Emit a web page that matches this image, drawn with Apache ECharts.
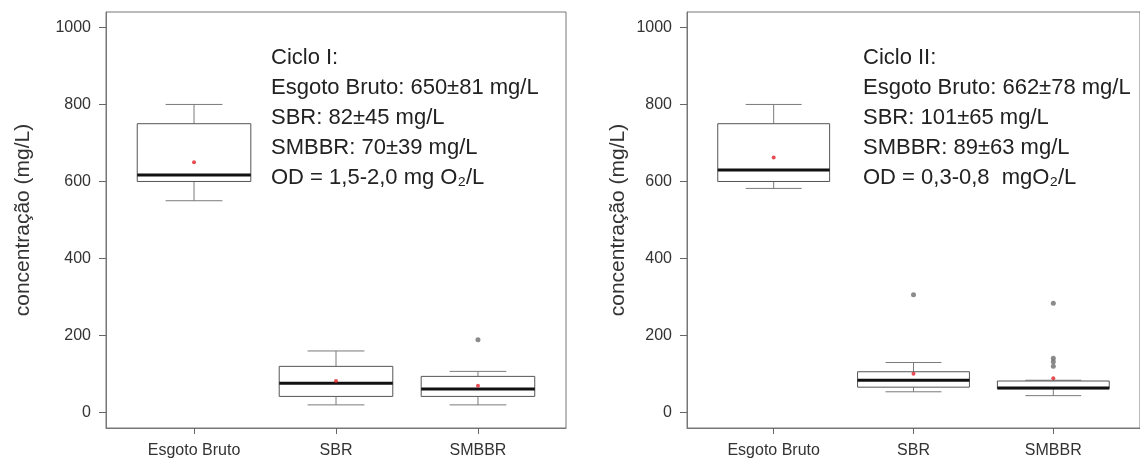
<!DOCTYPE html>
<html>
<head>
<meta charset="utf-8">
<script src="https://cdn.jsdelivr.net/npm/echarts@6/dist/echarts.min.js"></script>
<style>
html,body{margin:0;padding:0;background:#fff;}
#chart{width:1140px;height:459px;}
</style>
</head>
<body>
<div id="chart"></div>
<script>
// ---- data ----
const categories = ['Esgoto Bruto', 'SBR', 'SMBBR'];
const yTicks = [0, 200, 400, 600, 800, 1000];
// [lower whisker, Q1, median, Q3, upper whisker]
const boxCiclo1 = [[550, 600, 617, 750, 800], [20, 42, 76, 120, 160], [20, 42, 61, 94, 107]];
const boxCiclo2 = [[582, 600, 630, 750, 800], [54, 66, 84, 106, 130], [44, 62, 64, 82, 84]];
const meansCiclo1 = [650, 82, 70];
const meansCiclo2 = [662, 101, 89];
// [category number (1-based), value]
const outliersCiclo1 = [[3, 189]];
const outliersCiclo2 = [[2, 306], [3, 284], [3, 141], [3, 132], [3, 120]];
const textCiclo1 = ['Ciclo I:', 'Esgoto Bruto: 650±81 mg/L', 'SBR: 82±45 mg/L', 'SMBBR: 70±39 mg/L', 'OD = 1,5-2,0 mg O₂/L'];
const textCiclo2 = ['Ciclo II:', 'Esgoto Bruto: 662±78 mg/L', 'SBR: 101±65 mg/L', 'SMBBR: 89±63 mg/L', 'OD = 0,3-0,8  mgO₂/L'];

// ---- chart ----
const FONT = '"Liberation Sans", Arial, sans-serif';
const chart = echarts.init(document.getElementById('chart'));

function boxData(arr) {
  return arr.map((b, i) => [i + 1].concat(b));
}
function meanData(arr) {
  return arr.map((v, i) => [i + 1, v]);
}

function renderBox(params, api) {
  const x = api.value(0);
  const lo = api.coord([x, api.value(1)]);
  const q1 = api.coord([x, api.value(2)]);
  const md = api.coord([x, api.value(3)]);
  const q3 = api.coord([x, api.value(4)]);
  const hi = api.coord([x, api.value(5)]);
  const cx = lo[0];
  const hb = api.size([0.4, 0])[0];
  const hc = api.size([0.2, 0])[0];
  const wStyle = { stroke: '#7a7a7a', lineWidth: 1 };
  return {
    type: 'group',
    children: [
      { type: 'line', shape: { x1: cx, y1: lo[1], x2: cx, y2: q1[1] }, style: wStyle },
      { type: 'line', shape: { x1: cx, y1: q3[1], x2: cx, y2: hi[1] }, style: wStyle },
      { type: 'line', shape: { x1: cx - hc, y1: lo[1], x2: cx + hc, y2: lo[1] }, style: wStyle },
      { type: 'line', shape: { x1: cx - hc, y1: hi[1], x2: cx + hc, y2: hi[1] }, style: wStyle },
      { type: 'rect', shape: { x: cx - hb, y: q3[1], width: 2 * hb, height: q1[1] - q3[1] },
        style: { fill: '#fff', stroke: '#555', lineWidth: 1 } },
      { type: 'line', shape: { x1: cx - hb, y1: md[1], x2: cx + hb, y2: md[1] },
        style: { stroke: '#111', lineWidth: 3 } }
    ]
  };
}

function xAxisFor(gi) {
  return {
    type: 'value', gridIndex: gi, min: 0.38, max: 3.62, position: 'bottom',
    axisLine: { show: true, onZero: false, lineStyle: { color: '#777', width: 1 } },
    splitLine: { show: false },
    axisTick: { show: true, inside: false, length: 6, customValues: [1, 2, 3], lineStyle: { color: '#666', width: 1 } },
    axisLabel: {
      customValues: [1, 2, 3], margin: 15,
      formatter: v => categories[Math.round(v) - 1] || '',
      fontSize: 16, fontFamily: FONT, color: '#333'
    }
  };
}
function yAxisFor(gi, gap) {
  return {
    type: 'value', gridIndex: gi, min: -40, max: 1040, position: 'left',
    name: 'concentração (mg/L)', nameLocation: 'middle', nameGap: gap, nameRotate: 90,
    nameTextStyle: { fontSize: 21, fontFamily: FONT, color: '#333' },
    axisLine: { show: true, onZero: false, lineStyle: { color: '#777', width: 1 } },
    splitLine: { show: false },
    axisTick: { show: true, inside: false, length: 7, customValues: yTicks, lineStyle: { color: '#666', width: 1 } },
    axisLabel: { customValues: yTicks, margin: 15, fontSize: 16, fontFamily: FONT, color: '#333',
      formatter: v => String(v) }
  };
}

function panelText(lines, left) {
  return {
    type: 'text', left: left, top: 43,
    style: { text: lines.join('\n'), fontSize: 22, lineHeight: 30, fontFamily: FONT, fill: '#222' }
  };
}

const series = [];
[[boxCiclo1, meansCiclo1, outliersCiclo1], [boxCiclo2, meansCiclo2, outliersCiclo2]].forEach((d, gi) => {
  series.push({
    type: 'custom', xAxisIndex: gi, yAxisIndex: gi, renderItem: renderBox,
    data: boxData(d[0]), encode: { x: 0, y: [1, 2, 3, 4, 5] }, z: 2, silent: true
  });
  series.push({
    type: 'scatter', xAxisIndex: gi, yAxisIndex: gi, data: d[2],
    symbol: 'circle', symbolSize: 5, itemStyle: { color: '#6e6e6e' }, z: 3, silent: true
  });
  series.push({
    type: 'scatter', xAxisIndex: gi, yAxisIndex: gi, data: meanData(d[1]),
    symbol: 'circle', symbolSize: 4, itemStyle: { color: '#e0202a' }, z: 4, silent: true
  });
});

chart.setOption({
  animation: false,
  backgroundColor: '#fff',
  grid: [
    { left: 106, top: 12, width: 460, height: 416, show: true, borderColor: '#777', borderWidth: 1, backgroundColor: 'transparent' },
    { left: 687, top: 12, width: 460, height: 416, show: true, borderColor: '#777', borderWidth: 1, backgroundColor: 'transparent' }
  ],
  xAxis: [xAxisFor(0), xAxisFor(1)],
  yAxis: [yAxisFor(0, 72), yAxisFor(1, 58)],
  series: series,
  graphic: [panelText(textCiclo1, 271), panelText(textCiclo2, 863)]
});
</script>
</body>
</html>
